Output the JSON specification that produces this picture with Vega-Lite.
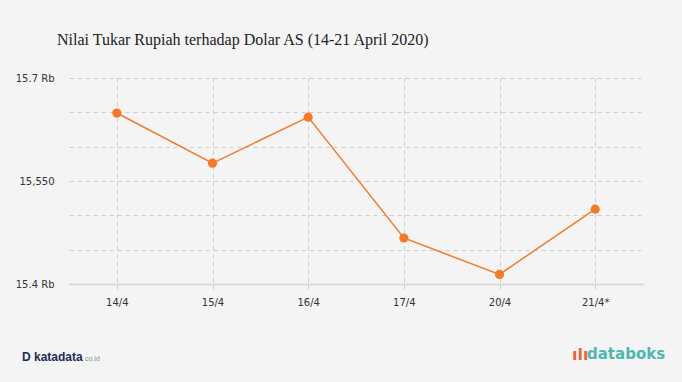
{
  "$schema": "https://vega.github.io/schema/vega-lite/v6.json",
  "width": 574,
  "height": 206,
  "autosize": {"type": "none"},
  "padding": {"left": 69, "top": 78, "right": 39, "bottom": 98},
  "background": "#f4f4f4",
  "title": {
    "text": "Nilai Tukar Rupiah terhadap Dolar AS (14-21 April 2020)",
    "font": "Liberation Serif",
    "fontSize": 16,
    "fontWeight": "normal",
    "color": "#222222",
    "anchor": "start",
    "frame": "group",
    "dx": -12,
    "baseline": "alphabetic",
    "offset": 12
  },
  "config": {
    "view": {"stroke": null},
    "axis": {"labelFont": "DejaVu Sans", "labelFontSize": 10, "labelColor": "#333333"}
  },
  "layer": [
    {
      "data": {
        "values": [
          {"tanggal": "14/4", "kurs": 15649},
          {"tanggal": "15/4", "kurs": 15576},
          {"tanggal": "16/4", "kurs": 15643},
          {"tanggal": "17/4", "kurs": 15467},
          {"tanggal": "20/4", "kurs": 15414},
          {"tanggal": "21/4*", "kurs": 15509}
        ]
      },
      "encoding": {
        "x": {
          "field": "tanggal",
          "type": "nominal",
          "sort": null,
          "scale": {"type": "point", "padding": 0.5},
          "axis": {
            "title": null,
            "labelAngle": 0,
            "grid": true,
            "gridColor": "#cccccc",
            "gridDash": [4, 4],
            "gridWidth": 1,
            "domain": true,
            "domainColor": "#d8d8d8",
            "domainWidth": 2,
            "ticks": true,
            "tickColor": "#cccccc",
            "tickSize": 5,
            "labelPadding": 8
          }
        },
        "y": {
          "field": "kurs",
          "type": "quantitative",
          "scale": {"domain": [15400, 15700], "nice": false, "zero": false},
          "axis": {
            "title": null,
            "values": [15400, 15450, 15500, 15550, 15600, 15650, 15700],
            "labelExpr": "datum.value == 15400 ? '15.4 Rb' : datum.value == 15550 ? '15,550' : datum.value == 15700 ? '15.7 Rb' : ''",
            "grid": true,
            "gridColor": "#cccccc",
            "gridDash": [4, 4],
            "gridWidth": 1,
            "domain": false,
            "ticks": false,
            "tickSize": 0,
            "labelPadding": 15
          }
        }
      },
      "layer": [
        {"mark": {"type": "line", "color": "#f47a2b", "strokeWidth": 1.5}},
        {"mark": {"type": "point", "filled": true, "opacity": 1, "color": "#f47a2b", "size": 85}}
      ]
    },
    {
      "data": {"values": [{"t": "D katadata"}]},
      "mark": {"type": "text", "font": "Liberation Sans", "fontSize": 12, "fontWeight": "bold", "color": "#1d2a5a", "align": "left", "baseline": "alphabetic"},
      "encoding": {"text": {"field": "t"}, "x": {"value": -47}, "y": {"value": 283}}
    },
    {
      "data": {"values": [{"t": "co.id"}]},
      "mark": {"type": "text", "font": "Liberation Sans", "fontSize": 7, "color": "#8a8f9c", "align": "left", "baseline": "alphabetic"},
      "encoding": {"text": {"field": "t"}, "x": {"value": 16}, "y": {"value": 283}}
    },
    {
      "data": {"values": [{"t": "ılı"}]},
      "mark": {"type": "text", "font": "DejaVu Sans", "fontSize": 16, "fontWeight": "bold", "color": "#e8663d", "align": "left", "baseline": "alphabetic"},
      "encoding": {"text": {"field": "t"}, "x": {"value": 503}, "y": {"value": 282}}
    },
    {
      "data": {"values": [{"t": "databoks"}]},
      "mark": {"type": "text", "font": "DejaVu Sans", "fontSize": 15, "fontWeight": "bold", "color": "#4fb7ae", "align": "left", "baseline": "alphabetic"},
      "encoding": {"text": {"field": "t"}, "x": {"value": 518}, "y": {"value": 281}}
    }
  ]
}
